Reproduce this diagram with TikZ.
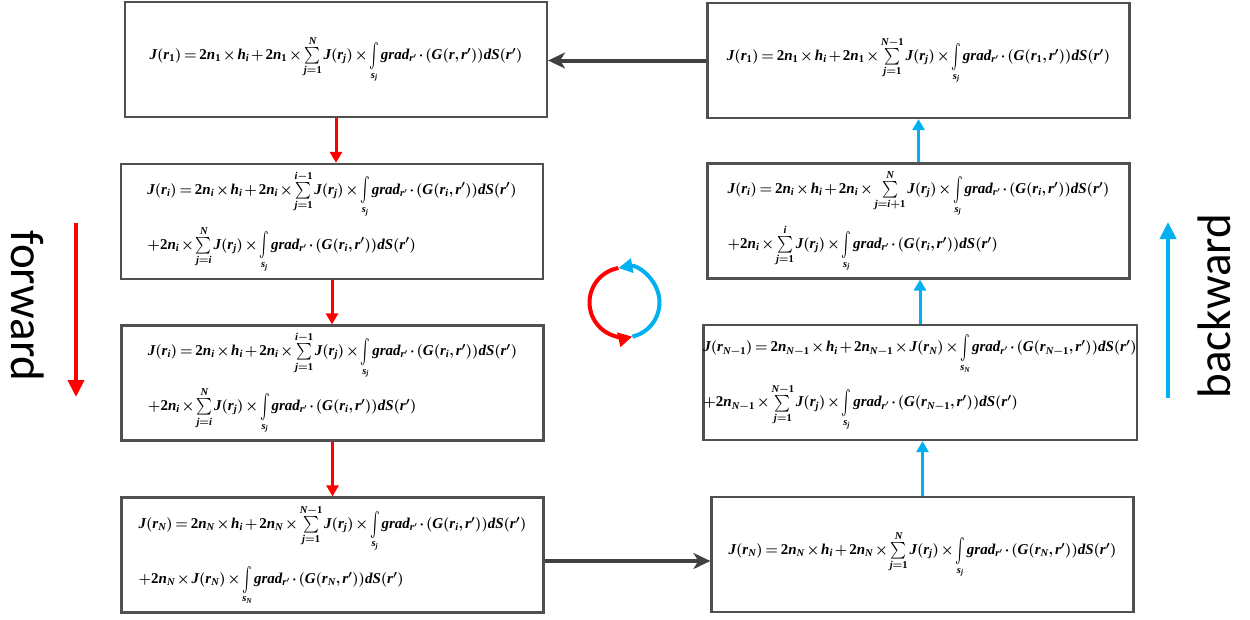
\documentclass[tikz,border=0pt]{standalone}
\usepackage{amsmath}
\usepackage[no-math]{fontspec}
\newfontfamily\calib{Carlito}
\newfontfamily\tbifont{Liberation Serif}[NFSSFamily=libser]
\DeclareMathAlphabet{\mathtbi}{TU}{libser}{bx}{it}
\DeclareMathAlphabet{\mathtb}{TU}{libser}{bx}{n}
\usetikzlibrary{arrows.meta,calc}
\definecolor{myblue}{RGB}{0,176,240}
\definecolor{boxgray}{RGB}{80,80,80}
\definecolor{arrgray}{RGB}{64,64,64}
\newcommand\gradr{grad_{r'}\cdot}
\newcommand\Int{\mathop{\vcenter{\hbox{\scalebox{1}[1.7]{$\int$}}}}\limits}
\newcommand\Sum{\mathop{\vcenter{\hbox{\scalebox{1.05}[1.15]{$\sum$}}}}\limits}
\newcommand\dg[1]{\mathtb{#1}}
\newcommand\eqf[1]{$\mathtbi{#1}$}
\newcommand\tightmath{\medmuskip=2mu plus 1mu\thickmuskip=3mu plus 1mu\thinmuskip=2mu}
\begin{document}
\begin{tikzpicture}[x=1pt,y=-1pt,
  eqbox/.style={draw=boxgray, line width=2.2pt, minimum width=422pt, minimum height=115pt,
    inner sep=0pt, align=left, font=\fontsize{15}{55}\selectfont\boldmath\tightmath},
  redarr/.style={draw=red, line width=3pt, -{Triangle[length=11pt,width=12pt]}},
  bluearr/.style={draw=myblue, line width=3pt, -{Triangle[length=11pt,width=12pt]}},
  grayarr/.style={draw=arrgray, line width=4pt, -{Stealth[length=17pt,width=16pt,inset=5pt]}},
  bigred/.style={draw=red, line width=4pt, -{Triangle[length=17pt,width=16pt]}},
  bigblue/.style={draw=myblue, line width=4pt, -{Triangle[length=17pt,width=16pt]}},
  dirlabel/.style={font=\calib\fontsize{47}{50}\selectfont, inner sep=0pt}
]
\useasboundingbox (0,0) rectangle (1250,619);

\node[eqbox] (L1) at (336,59.5)
 {\eqf{J(r_{\dg1})=\dg2n_{\dg1}\times h_i+\dg2n_{\dg1}\times\Sum_{j=\dg1}^{N}J(r_j)\times\Int_{s_j}\gradr(G(r,r'))dS(r')}};
\node[eqbox] (R1) at (918.5,60.5)
 {\eqf{J(r_{\dg1})=\dg2n_{\dg1}\times h_i+\dg2n_{\dg1}\times\Sum_{j=\dg1}^{N-\dg1}J(r_j)\times\Int_{s_j}\gradr(G(r_{\dg1},r'))dS(r')}};
\node[eqbox] (L2) at (332,221.5)
 {\eqf{J(r_i)=\dg2n_i\times h_i+\dg2n_i\times\Sum_{j=\dg1}^{i-\dg1}J(r_j)\times\Int_{s_j}\gradr(G(r_i,r'))dS(r')}\\
  \eqf{+\dg2n_i\times\Sum_{j=i}^{N}J(r_j)\times\Int_{s_j}\gradr(G(r_i,r'))dS(r')}};
\node[eqbox] (R2) at (918.5,221)
 {\eqf{J(r_i)=\dg2n_i\times h_i+\dg2n_i\times\Sum_{j=i+\dg1}^{N}J(r_j)\times\Int_{s_j}\gradr(G(r_i,r'))dS(r')}\\
  \eqf{+\dg2n_i\times\Sum_{j=\dg1}^{i}J(r_j)\times\Int_{s_j}\gradr(G(r_i,r'))dS(r')}};
\node[eqbox] (L3) at (332.5,383)
 {\eqf{J(r_i)=\dg2n_i\times h_i+\dg2n_i\times\Sum_{j=\dg1}^{i-\dg1}J(r_j)\times\Int_{s_j}\gradr(G(r_i,r'))dS(r')}\\
  \eqf{+\dg2n_i\times\Sum_{j=i}^{N}J(r_j)\times\Int_{s_j}\gradr(G(r_i,r'))dS(r')}};
\node[eqbox] (R3) at (920,382.5)
 {\eqf{J(r_{N-\dg1})=\dg2n_{N-\dg1}\times h_i+\dg2n_{N-\dg1}\times J(r_N)\times\Int_{s_N}\gradr(G(r_{N-\dg1},r'))dS(r')}\\
  \eqf{+\dg2n_{N-\dg1}\times\Sum_{j=\dg1}^{N-\dg1}J(r_j)\times\Int_{s_j}\gradr(G(r_{N-\dg1},r'))dS(r')}};
\node[eqbox] (L4) at (332.5,555)
 {\eqf{J(r_N)=\dg2n_N\times h_i+\dg2n_N\times\Sum_{j=\dg1}^{N-\dg1}J(r_j)\times\Int_{s_j}\gradr(G(r_i,r'))dS(r')}\\
  \eqf{+\dg2n_N\times J(r_N)\times\Int_{s_N}\gradr(G(r_N,r'))dS(r')}};
\node[eqbox] (R4) at (922.5,554.5)
 {\eqf{J(r_N)=\dg2n_N\times h_i+\dg2n_N\times\Sum_{j=\dg1}^{N}J(r_j)\times\Int_{s_j}\gradr(G(r_N,r'))dS(r')}};

% forward chain
\draw[redarr] (L1.south) -- (L1.south |- L2.north);
\draw[redarr] (L2.south) -- (L2.south |- L3.north);
\draw[redarr] (L3.south) -- (L3.south |- L4.north);
% bottom link
\coordinate (a4) at ([yshift=-6pt]L4.east);
\draw[grayarr] (a4) -- (a4 -| R4.west);
% backward chain
\draw[bluearr] (R4.north) -- (R4.north |- R3.south);
\draw[bluearr] (R3.north) -- (R3.north |- R2.south);
\draw[bluearr] (R2.north) -- (R2.north |- R1.south);
% top link
\draw[grayarr] (R1.west) -- (R1.west -| L1.east);

% direction labels
\node[dirlabel, rotate=-90] (fw) at (28,306) {forward};
\node[dirlabel, rotate=90] (bw) at (1214,306) {backward};
\coordinate (f1) at (76,223);
\coordinate (f2) at (76,397);
\draw[bigred] (f1) -- (f2);
\coordinate (b1) at (1168,398);
\coordinate (b2) at (1168,222);
\draw[bigblue] (b1) -- (b2);

% cycle symbol
\begin{scope}[shift={(624.5,302.5)}, yscale=-1]
  \draw[draw=myblue, line width=4pt, -{Triangle[length=14pt,width=14pt]}] (283:35) arc (283:460:35);
  \draw[draw=red, line width=4pt, -{Triangle[length=14pt,width=14pt]}] (100:35) arc (100:283:35);
\end{scope}
\end{tikzpicture}
\end{document}
